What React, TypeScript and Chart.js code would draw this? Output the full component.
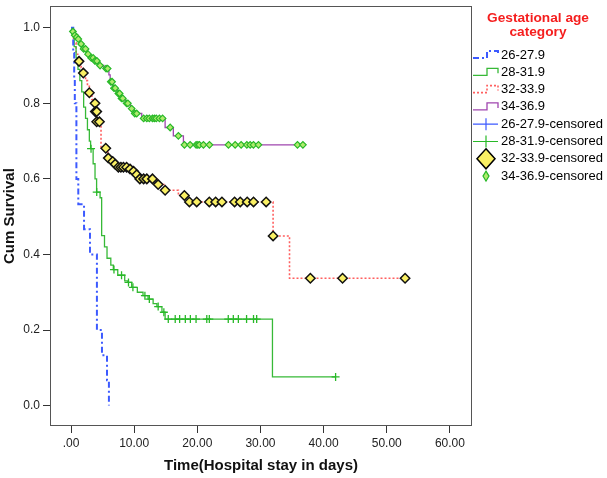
import React, { useEffect, useRef } from 'react';
import { Chart, registerables } from 'chart.js';
Chart.register(...registerables);

const FONT = 'Arial, "Liberation Sans", Helvetica, sans-serif';

const X_TICKS = [0, 10, 20, 30, 40, 50, 60];
const Y_TICKS = [0, 0.2, 0.4, 0.6, 0.8, 1.0];
const X_TITLE = 'Time(Hospital stay in days)';
const Y_TITLE = 'Cum Survival';
const LEGEND_TITLE = ['Gestational age', 'category'];
const GROUPS = ['26-27.9', '28-31.9', '32-33.9', '34-36.9'];

// 26-27.9 survival curve
const g1Days = [0, 0.35, 0.5, 0.6, 0.85, 0.85, 0.85, 1.15, 2.06, 3.0, 4.1, 4.1, 4.1, 4.9, 5.7, 6.0];
const g1Surv = [1, 0.933, 0.867, 0.8, 0.733, 0.667, 0.6, 0.533, 0.467, 0.4, 0.333, 0.267, 0.2, 0.133, 0.067, 0.0];
const g1CensDays: number[] = [];
const g1CensSurv: number[] = [];

// 28-31.9 survival curve
const g2Days = [0, 0.2, 0.5, 0.8, 1.1, 1.4, 1.7, 2.0, 2.3, 2.6, 2.9, 3.1, 3.5, 3.8, 4.05, 4.6, 4.85, 5.3, 5.7, 6.3, 6.7, 7.4, 8.5, 9.0, 9.6, 10.5, 11.4, 12.2, 13.0, 13.6, 14.4, 14.9, 31.9, 41.9];
const g2Surv = [1, 0.98, 0.95, 0.92, 0.89, 0.86, 0.83, 0.79, 0.76, 0.73, 0.70, 0.68, 0.64, 0.60, 0.565, 0.55, 0.45, 0.42, 0.39, 0.372, 0.36, 0.345, 0.33, 0.326, 0.313, 0.30, 0.291, 0.282, 0.27, 0.262, 0.247, 0.229, 0.076, 0.076];
const g2CensDays = [3.17, 4.07, 6.8, 8.0, 9.1, 9.8, 11.7, 12.4, 13.8, 14.7, 15.4, 16.5, 17.2, 18.1, 18.9, 19.8, 21.5, 21.9, 24.9, 25.7, 26.5, 27.8, 28.9, 29.4, 41.9];
const g2CensSurv = [0.68, 0.565, 0.36, 0.345, 0.326, 0.313, 0.291, 0.282, 0.262, 0.247, 0.229, 0.229, 0.229, 0.229, 0.229, 0.229, 0.229, 0.229, 0.229, 0.229, 0.229, 0.229, 0.229, 0.229, 0.076];

// 32-33.9 survival curve
const g3Days = [0, 0.4, 0.8, 1.2, 1.6, 1.9, 2.3, 2.6, 2.9, 3.3, 3.75, 3.85, 4.05, 4.75, 5.8, 6.5, 6.9, 7.3, 9.2, 9.8, 10.3, 10.8, 13.6, 14.7, 17.0, 18.5, 32.0, 34.6, 52.9];
const g3Surv = [1, 0.96, 0.93, 0.911, 0.895, 0.88, 0.86, 0.845, 0.828, 0.81, 0.80, 0.778, 0.751, 0.681, 0.655, 0.646, 0.639, 0.631, 0.626, 0.62, 0.611, 0.60, 0.585, 0.57, 0.556, 0.539, 0.449, 0.337, 0.337];
const g3CensDays = [1.27, 1.95, 2.9, 3.8, 3.85, 4.07, 4.07, 4.5, 5.5, 5.9, 6.6, 7.0, 7.5, 7.9, 8.3, 8.8, 9.35, 9.9, 10.4, 10.9, 11.5, 12.0, 12.9, 13.8, 14.9, 17.95, 18.75, 19.9, 21.9, 22.9, 23.9, 25.9, 26.8, 27.9, 28.9, 30.9, 32.0, 37.9, 43.0, 52.9];
const g3CensSurv = [0.911, 0.88, 0.828, 0.80, 0.778, 0.778, 0.751, 0.751, 0.681, 0.655, 0.646, 0.639, 0.631, 0.631, 0.631, 0.631, 0.626, 0.62, 0.611, 0.60, 0.60, 0.60, 0.60, 0.585, 0.57, 0.556, 0.539, 0.539, 0.539, 0.539, 0.539, 0.539, 0.539, 0.539, 0.539, 0.539, 0.449, 0.337, 0.337, 0.337];

// 34-36.9 survival curve
const g4Days = [0, 0.3, 0.7, 1.1, 1.4, 1.9, 2.5, 3.0, 3.6, 4.3, 5.2, 6.0, 6.2, 6.6, 7.3, 7.9, 8.6, 9.4, 10.0, 11.2, 14.9, 16.2, 17.8, 36.7];
const g4Surv = [1, 0.99, 0.98, 0.97, 0.957, 0.944, 0.93, 0.92, 0.912, 0.90, 0.892, 0.875, 0.857, 0.84, 0.826, 0.813, 0.80, 0.786, 0.773, 0.76, 0.736, 0.714, 0.69, 0.69];
const g4CensDays = [0.3, 0.6, 0.9, 1.15, 1.6, 2.0, 2.3, 2.7, 3.2, 3.5, 3.8, 4.1, 4.6, 5.55, 5.8, 6.3, 6.5, 6.8, 7.0, 7.5, 7.7, 8.0, 8.2, 8.8, 9.0, 9.6, 10.1, 10.4, 11.5, 12.0, 12.4, 12.9, 13.2, 13.5, 14.0, 14.5, 15.7, 17.0, 17.96, 18.86, 19.81, 20.08, 20.33, 20.97, 21.92, 24.93, 25.99, 26.94, 27.84, 28.37, 28.89, 29.68, 35.86, 36.72];
const g4CensSurv = [0.99, 0.98, 0.975, 0.97, 0.957, 0.944, 0.944, 0.93, 0.92, 0.92, 0.912, 0.912, 0.90, 0.892, 0.892, 0.857, 0.857, 0.84, 0.84, 0.826, 0.826, 0.813, 0.813, 0.80, 0.80, 0.786, 0.773, 0.773, 0.76, 0.76, 0.76, 0.76, 0.76, 0.76, 0.76, 0.76, 0.736, 0.714, 0.69, 0.69, 0.69, 0.69, 0.69, 0.69, 0.69, 0.69, 0.69, 0.69, 0.69, 0.69, 0.69, 0.69, 0.69, 0.69];

const pts = (xs: number[], ys: number[]) => xs.map((x, i) => ({ x, y: ys[i] }));

const BLUE = 'rgb(60,90,255)';
const GREEN = 'rgb(55,185,55)';
const RED = 'rgb(255,95,95)';
const PURPLE = 'rgb(160,70,175)';
const YELLOW = 'rgb(250,240,100)';
const LGREEN = 'rgb(175,235,110)';
const MGREEN = 'rgb(40,185,40)';

const legendPlugin = {
  id: 'kmLegend',
  afterDraw(chart: any) {
    const ctx = chart.ctx as CanvasRenderingContext2D;
    const ca = chart.chartArea;
    ctx.save();
    // frame
    ctx.strokeStyle = '#555';
    ctx.lineWidth = 1;
    ctx.strokeRect(Math.round(ca.left) + 0.5, Math.round(ca.top) + 0.5, Math.round(ca.right - ca.left) - 1, Math.round(ca.bottom - ca.top) - 1);
    // legend title
    ctx.fillStyle = 'rgb(245,30,30)';
    ctx.font = 'bold 13.7px ' + FONT;
    ctx.textAlign = 'center';
    ctx.textBaseline = 'middle';
    LEGEND_TITLE.forEach((t, i) => ctx.fillText(t, 538, 18 + i * 14.5));
    // items
    const x0 = 473, x1 = 498, tx = 501;
    chart.data.datasets.forEach((ds: any) => {
      const y = 55 + ds.legendIndex * 17.3;
      ctx.save();
      if (ds.legendKind === 'line') {
        ctx.strokeStyle = ds.borderColor;
        ctx.lineWidth = ds.borderWidth;
        ctx.setLineDash(ds.borderDash || []);
        ctx.beginPath();
        ctx.moveTo(x0, y + 3);
        ctx.lineTo(487, y + 3);
        ctx.lineTo(487, y - 4);
        ctx.lineTo(x1, y - 4);
        ctx.lineTo(x1, y + 1);
        ctx.stroke();
      } else if (ds.legendKind === 'cross') {
        ctx.strokeStyle = ds.borderColor;
        ctx.lineWidth = 1.2;
        ctx.beginPath();
        ctx.moveTo(x0, y); ctx.lineTo(x1, y);
        ctx.moveTo(486, y - 6); ctx.lineTo(486, y + 6);
        ctx.stroke();
      } else if (ds.legendKind === 'bigDiamond') {
        ctx.fillStyle = ds.backgroundColor;
        ctx.strokeStyle = '#000';
        ctx.lineWidth = 1.5;
        ctx.beginPath();
        ctx.moveTo(486, y - 10); ctx.lineTo(495, y); ctx.lineTo(486, y + 10); ctx.lineTo(477, y); ctx.closePath();
        ctx.fill(); ctx.stroke();
      } else if (ds.legendKind === 'smallDiamond') {
        ctx.fillStyle = ds.backgroundColor;
        ctx.strokeStyle = ds.borderColor;
        ctx.lineWidth = 1.2;
        ctx.beginPath();
        ctx.moveTo(486, y - 5); ctx.lineTo(489, y); ctx.lineTo(486, y + 5); ctx.lineTo(483, y); ctx.closePath();
        ctx.fill(); ctx.stroke();
      }
      ctx.restore();
      ctx.fillStyle = '#000';
      ctx.font = '13px ' + FONT;
      ctx.textAlign = 'left';
      ctx.textBaseline = 'middle';
      ctx.fillText(ds.label, tx, y);
    });
    ctx.restore();
  },
};

export default function App() {
  const ref = useRef<HTMLCanvasElement>(null);
  useEffect(() => {
    const lineDs = (i: number, xs: number[], ys: number[], color: string, width: number, dash: number[]) => ({
      type: 'line',
      label: GROUPS[i],
      data: pts(xs, ys),
      borderColor: color,
      backgroundColor: color,
      borderWidth: width,
      borderDash: dash,
      stepped: true,
      pointRadius: 0,
      fill: false,
      order: 2,
      legendKind: 'line',
      legendIndex: i,
    });
    const datasets: any[] = [
      lineDs(0, g1Days, g1Surv, BLUE, 2, [6, 3, 2, 3]),
      lineDs(1, g2Days, g2Surv, GREEN, 1.3, []),
      lineDs(2, g3Days, g3Surv, RED, 1.6, [2, 2]),
      lineDs(3, g4Days, g4Surv, PURPLE, 1.3, []),
      {
        type: 'scatter', label: GROUPS[0] + '-censored', data: pts(g1CensDays, g1CensSurv),
        pointStyle: 'cross', pointRadius: 4, borderColor: BLUE, backgroundColor: BLUE, pointBorderWidth: 1.2,
        order: 1, legendKind: 'cross', legendIndex: 4,
      },
      {
        type: 'scatter', label: GROUPS[1] + '-censored', data: pts(g2CensDays, g2CensSurv),
        pointStyle: 'cross', pointRadius: 4, borderColor: MGREEN, backgroundColor: MGREEN, pointBorderWidth: 1.3,
        order: 1, legendKind: 'cross', legendIndex: 5,
      },
      {
        type: 'scatter', label: GROUPS[2] + '-censored', data: pts(g3CensDays, g3CensSurv),
        pointStyle: 'rectRot', pointRadius: 4.7, borderColor: '#111', backgroundColor: YELLOW, pointBorderWidth: 1.5,
        order: 0, legendKind: 'bigDiamond', legendIndex: 6,
      },
      {
        type: 'scatter', label: GROUPS[3] + '-censored', data: pts(g4CensDays, g4CensSurv),
        pointStyle: 'rectRot', pointRadius: 3.3, borderColor: MGREEN, backgroundColor: LGREEN, pointBorderWidth: 1.2,
        order: 0, legendKind: 'smallDiamond', legendIndex: 7,
      },
    ];
    const chart = new Chart(ref.current as HTMLCanvasElement, {
      type: 'scatter',
      data: { datasets },
      options: {
        responsive: false,
        animation: false,
        devicePixelRatio: 1,
        layout: { padding: { top: 2, right: 135, left: 0, bottom: 0 } },
        plugins: { legend: { display: false }, tooltip: { enabled: false } },
        scales: {
          x: {
            type: 'linear', min: -3.33, max: 63.5,
            afterBuildTicks: (s: any) => { s.ticks = X_TICKS.map((v) => ({ value: v })); },
            afterFit: (s: any) => { s.height = 52; s.paddingLeft = 0; s.paddingRight = 0; },
            ticks: {
              callback: (v: any) => (Number(v) === 0 ? '.00' : Number(v).toFixed(2)),
              font: { size: 12, family: FONT }, color: '#222', padding: 3, maxRotation: 0, autoSkip: false,
            },
            grid: { drawOnChartArea: false, drawTicks: true, tickLength: 7, tickColor: '#333', color: '#333' },
            border: { display: false },
            title: { display: true, text: X_TITLE, font: { size: 15, weight: 'bold', family: FONT }, color: '#111', padding: { top: 2, bottom: 3 } },
          },
          y: {
            type: 'linear', min: -0.054, max: 1.057,
            afterBuildTicks: (s: any) => { s.ticks = Y_TICKS.map((v) => ({ value: v })); },
            afterFit: (s: any) => { s.width = 50; s.paddingTop = 0; s.paddingBottom = 0; },
            ticks: {
              callback: (v: any) => Number(v).toFixed(1),
              font: { size: 12, family: FONT }, color: '#222', padding: 3,
            },
            grid: { drawOnChartArea: false, drawTicks: true, tickLength: 7, tickColor: '#333', color: '#333' },
            border: { display: false },
            title: { display: true, text: Y_TITLE, font: { size: 15, weight: 'bold', family: FONT }, color: '#111', padding: { top: 1, bottom: 0 } },
          },
        },
      } as any,
      plugins: [legendPlugin],
    } as any);
    return () => chart.destroy();
  }, []);
  return (
    <div style={{ position: 'fixed', left: 0, top: 0, width: 607, height: 478, background: '#fff' }}>
      <canvas ref={ref} width={607} height={478} style={{ display: 'block' }} />
    </div>
  );
}
